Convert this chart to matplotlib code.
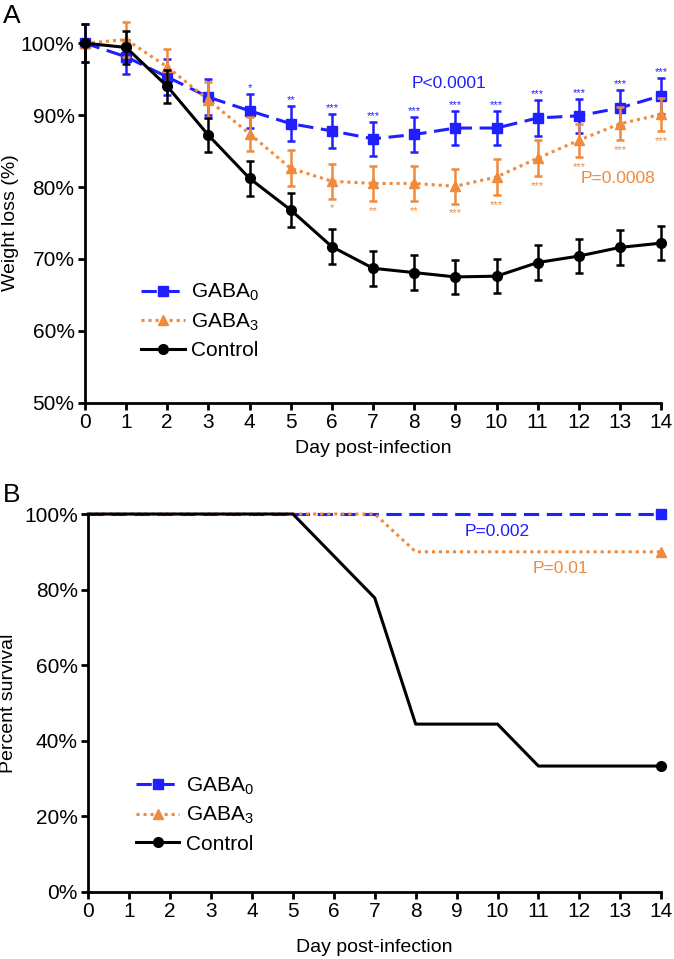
import numpy as np
import matplotlib
matplotlib.use('Agg')
import matplotlib.pyplot as plt

plt.rcParams.update({
    'font.family': ['Liberation Sans', 'DejaVu Sans'],
    'font.size': 15,
    'mathtext.default': 'regular',
})

days = np.arange(15)

# Weight (% of initial) and SEM
gaba0_w = [100, 98.1, 95.3, 92.5, 90.6, 88.8, 87.8, 86.7, 87.3, 88.2, 88.2, 89.6, 89.9, 91.0, 92.7]
gaba0_e = [2.6, 2.4, 2.5, 2.5, 2.4, 2.4, 2.4, 2.4, 2.4, 2.4, 2.4, 2.5, 2.4, 2.5, 2.5]
gaba3_w = [100, 100.5, 96.7, 92.1, 87.4, 82.6, 80.8, 80.5, 80.5, 80.1, 81.4, 84.0, 86.5, 88.8, 90.1]
gaba3_e = [0.4, 2.4, 2.5, 2.5, 2.4, 2.5, 2.4, 2.4, 2.4, 2.4, 2.5, 2.5, 2.3, 2.3, 2.3]
control_w = [100, 99.4, 94.0, 87.2, 81.2, 76.8, 71.7, 68.7, 68.1, 67.5, 67.6, 69.5, 70.4, 71.6, 72.2]
control_e = [2.6, 2.3, 2.3, 2.4, 2.4, 2.4, 2.4, 2.4, 2.4, 2.4, 2.4, 2.4, 2.4, 2.4, 2.4]

gaba0_stars = ['', '', '', '', '*', '**', '***', '***', '***', '***', '***', '***', '***', '***', '***']
gaba3_stars = ['', '', '', '', '', '', '*', '**', '**', '***', '***', '***', '***', '***', '***']

# Survival (%)
gaba0_s = [100] * 15
gaba3_s = [100, 100, 100, 100, 100, 100, 100, 100, 90, 90, 90, 90, 90, 90, 90]
control_s = [100, 100, 100, 100, 100, 100, 88.9, 77.8, 44.4, 44.4, 44.4, 33.3, 33.3, 33.3, 33.3]

blue = '#1f1fff'
orange = '#f08a3c'
black = 'black'

fig = plt.figure(figsize=(6.74, 9.59), dpi=100)
ax1 = fig.add_axes([0.126, 0.580, 0.855, 0.375])
ax2 = fig.add_axes([0.131, 0.070, 0.850, 0.394])

styles = [
    ('GABA$_0$', gaba0_w, gaba0_e, gaba0_s, blue, (0, (5, 2.5)), 's'),
    ('GABA$_3$', gaba3_w, gaba3_e, gaba3_s, orange, (0, (1, 1.3)), '^'),
    ('Control', control_w, control_e, control_s, black, '-', 'o'),
]

# Panel A: weight loss
for label, w, e, s, col, ls, mk in styles:
    line, caps, bars = ax1.errorbar(days, w, yerr=e, color=col, ls='none',
                                    capsize=3, elinewidth=1.8, capthick=1.8,
                                    clip_on=False)
    for c in caps:
        c.set_clip_on(False)
    for b in bars:
        b.set_clip_on(False)
    ax1.plot(days, w, color=col, ls=ls, lw=2.2, marker=mk, ms=7,
             label=label, clip_on=False)

for d, st in zip(days, gaba0_stars):
    if st:
        ax1.text(d, gaba0_w[d] + gaba0_e[d] + 0.4, st, color=blue, fontsize=8,
                 ha='center', va='baseline')
for d, st in zip(days, gaba3_stars):
    if st:
        ax1.text(d, gaba3_w[d] - gaba3_e[d] - 1.8, st, color=orange, fontsize=8,
                 ha='center', va='baseline')

ax1.text(8.85, 94.4, 'P<0.0001', color=blue, fontsize=12.5, ha='center', va='center')
ax1.text(12.95, 81.2, 'P=0.0008', color=orange, fontsize=12.5, ha='center', va='center')

ax1.set_xlim(0, 14)
ax1.set_ylim(50, 100)
ax1.set_xticks(days)
ax1.set_yticks([50, 60, 70, 80, 90, 100])
ax1.set_yticklabels(['50%', '60%', '70%', '80%', '90%', '100%'])
ax1.set_xlabel('Day post-infection', fontsize=14)
ax1.set_ylabel('Weight loss (%)', fontsize=14)
ax1.xaxis.set_label_coords(0.5, -0.103)
ax1.yaxis.set_label_coords(-0.115, 0.5)
ax1.legend(loc='center left', bbox_to_anchor=(0.065, 0.227), frameon=False,
           handlelength=2.1, handletextpad=0.3, labelspacing=0.4, fontsize=15)

# Panel B: survival
for label, w, e, s, col, ls, mk in styles:
    ax2.plot(days, s, color=col, ls=ls, lw=2.2, marker=mk, ms=7,
             markevery=[len(days) - 1], label=label, clip_on=False)

ax2.text(10.0, 95.5, 'P=0.002', color=blue, fontsize=12.5, ha='center', va='center')
ax2.text(11.55, 85.7, 'P=0.01', color=orange, fontsize=12.5, ha='center', va='center')

ax2.set_xlim(0, 14)
ax2.set_ylim(0, 100)
ax2.set_xticks(days)
ax2.set_yticks([0, 20, 40, 60, 80, 100])
ax2.set_yticklabels(['0%', '20%', '40%', '60%', '80%', '100%'])
ax2.set_xlabel('Day post-infection', fontsize=14)
ax2.set_ylabel('Percent survival', fontsize=14)
ax2.xaxis.set_label_coords(0.5, -0.125)
ax2.yaxis.set_label_coords(-0.125, 0.5)
ax2.legend(loc='center left', bbox_to_anchor=(0.05, 0.205), frameon=False,
           handlelength=2.1, handletextpad=0.3, labelspacing=0.4, fontsize=15)

for ax in (ax1, ax2):
    ax.spines['top'].set_visible(False)
    ax.spines['right'].set_visible(False)
    ax.spines['left'].set_linewidth(2)
    ax.spines['bottom'].set_linewidth(2)
    ax.tick_params(width=2, length=5, pad=2.5, labelsize=15)

fig.text(0.004, 0.983, 'A', fontsize=19, va='center')
fig.text(0.004, 0.484, 'B', fontsize=19, va='center')

fig.savefig('out.png', dpi=100)
